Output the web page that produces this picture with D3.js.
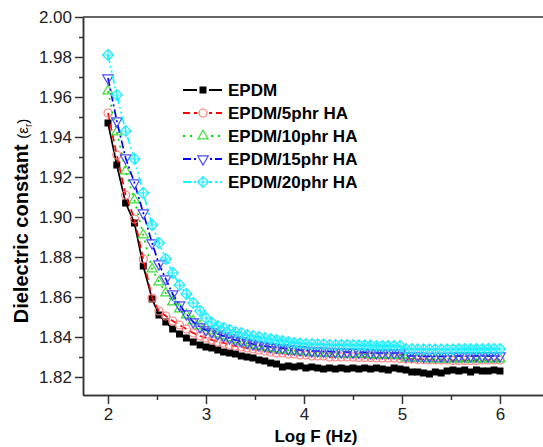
<html>
<head>
    <meta charset="UTF-8">
    <title>Dielectric constant</title>
    <style>
        body { margin: 0; background: #fff; }
        svg { font-family: "Liberation Sans", Arial, sans-serif; }
        .axis path, .axis line { stroke: #333; stroke-width: 1.5; }
        .axis text { font-size: 17px; fill: #222; }
    </style>
    <script src="https://d3js.org/d3.v7.min.js"></script>
</head>
<body>
<script type="text/javascript">
    // log frequency (Hz)
    var logF = [2.00, 2.09, 2.18, 2.27, 2.36, 2.45, 2.52, 2.59, 2.66, 2.73, 2.80, 2.87, 2.94, 3.00,
        3.06, 3.12, 3.18, 3.24, 3.30, 3.36, 3.42, 3.48, 3.54, 3.60, 3.66, 3.72, 3.78, 3.84, 3.90, 3.96,
        4.02, 4.08, 4.14, 4.20, 4.26, 4.32, 4.38, 4.44, 4.50, 4.56, 4.62, 4.68, 4.74, 4.80, 4.86, 4.92, 4.98,
        5.04, 5.10, 5.16, 5.22, 5.28, 5.34, 5.40, 5.46, 5.52, 5.58, 5.64, 5.70, 5.76, 5.82, 5.88, 5.94, 6.00]

    var epdm = [1.947, 1.926, 1.907, 1.897, 1.8755, 1.859, 1.851, 1.8475, 1.844, 1.8415, 1.8395, 1.8375, 1.836, 1.835,
        1.8345, 1.8335, 1.8325, 1.832, 1.8315, 1.8305, 1.830, 1.8295, 1.8285, 1.828, 1.827, 1.8265, 1.825, 1.8255, 1.825, 1.8255,
        1.8245, 1.825, 1.8245, 1.824, 1.8245, 1.824, 1.8245, 1.824, 1.8245, 1.824, 1.8245, 1.824, 1.8245, 1.824, 1.8235, 1.8245, 1.824,
        1.8235, 1.8225, 1.8225, 1.822, 1.8215, 1.8225, 1.822, 1.823, 1.8235, 1.823, 1.8235, 1.8225, 1.8235, 1.823, 1.823, 1.8235, 1.823]

    var ha5 = [1.952, 1.931, 1.911, 1.899, 1.879, 1.8595, 1.853, 1.8505, 1.848, 1.846, 1.844, 1.842, 1.8405, 1.8395,
        1.8385, 1.8375, 1.837, 1.836, 1.8355, 1.835, 1.8345, 1.834, 1.8335, 1.833, 1.8325, 1.832, 1.832, 1.8315, 1.8315, 1.831,
        1.831, 1.8305, 1.8305, 1.8305, 1.830, 1.830, 1.830, 1.830, 1.830, 1.8298, 1.8298, 1.8298, 1.8295, 1.8295, 1.8295, 1.8295, 1.8292,
        1.829, 1.829, 1.8288, 1.8288, 1.8285, 1.8285, 1.8285, 1.8285, 1.8283, 1.8283, 1.8283, 1.8283, 1.8283, 1.8285, 1.8285, 1.8285, 1.8285]

    var ha10 = [1.963, 1.9425, 1.923, 1.9085, 1.891, 1.874, 1.8675, 1.862, 1.8575, 1.854, 1.851, 1.848, 1.8455, 1.8445,
        1.843, 1.8415, 1.8405, 1.8395, 1.8385, 1.8375, 1.837, 1.836, 1.8355, 1.835, 1.8345, 1.834, 1.8335, 1.8333, 1.833, 1.8328,
        1.8325, 1.8323, 1.832, 1.832, 1.8318, 1.8318, 1.8315, 1.8315, 1.8315, 1.8313, 1.8313, 1.831, 1.831, 1.831, 1.831, 1.831, 1.8308,
        1.8295, 1.8295, 1.8293, 1.8293, 1.829, 1.829, 1.829, 1.829, 1.829, 1.829, 1.829, 1.829, 1.829, 1.829, 1.829, 1.829, 1.829]

    var ha15 = [1.9695, 1.948, 1.9295, 1.917, 1.902, 1.887, 1.8765, 1.869, 1.8615, 1.856, 1.8515, 1.8475, 1.845, 1.8435,
        1.8425, 1.8415, 1.8405, 1.8395, 1.8385, 1.838, 1.8372, 1.8365, 1.836, 1.8355, 1.835, 1.8348, 1.8345, 1.834, 1.8338, 1.8335,
        1.8333, 1.833, 1.833, 1.8328, 1.8328, 1.8325, 1.8325, 1.8325, 1.8323, 1.8323, 1.8323, 1.832, 1.832, 1.832, 1.832, 1.832, 1.832,
        1.8305, 1.8305, 1.8305, 1.8303, 1.8303, 1.8303, 1.8303, 1.8303, 1.8303, 1.8305, 1.8305, 1.8305, 1.8305, 1.8305, 1.8305, 1.8305, 1.8305]

    var ha20 = [1.981, 1.961, 1.943, 1.929, 1.912, 1.896, 1.887, 1.879, 1.872, 1.866, 1.8615, 1.857, 1.853, 1.8495,
        1.847, 1.8455, 1.8445, 1.8435, 1.8425, 1.842, 1.841, 1.8405, 1.840, 1.8395, 1.839, 1.8385, 1.838, 1.8375, 1.837, 1.8368,
        1.8365, 1.8365, 1.8363, 1.8363, 1.836, 1.836, 1.836, 1.836, 1.836, 1.8358, 1.8358, 1.8358, 1.8355, 1.8355, 1.8355, 1.8355, 1.8355,
        1.834, 1.834, 1.8338, 1.8338, 1.8338, 1.8338, 1.8338, 1.8338, 1.8338, 1.834, 1.834, 1.834, 1.834, 1.834, 1.834, 1.834, 1.834]

    var seriesNames = ["EPDM", "EPDM/5phr HA", "EPDM/10phr HA", "EPDM/15phr HA", "EPDM/20phr HA"]
    var xTicks = [2, 3, 4, 5, 6]
    var xMinor = [2.5, 3.5, 4.5, 5.5]
    var yTicks = [1.82, 1.84, 1.86, 1.88, 1.90, 1.92, 1.94, 1.96, 1.98, 2.00]
    var yMinor = [1.83, 1.85, 1.87, 1.89, 1.91, 1.93, 1.95, 1.97, 1.99]

    var styles = [
        { line: "#000", mark: "#000", dash: null, shape: "square", fill: "#000" },
        { line: "#ff0000", mark: "#ff7a7a", dash: "7,4", shape: "circle", fill: "none" },
        { line: "#00dd00", mark: "#3ddc3d", dash: "2,5", shape: "triangle", fill: "none" },
        { line: "#0000ff", mark: "#4a4aff", dash: "8,3,2,3", shape: "down", fill: "none" },
        { line: "#00ffff", mark: "#22ecff", dash: "8,3,2,3,2,3", shape: "cross", fill: "none" }
    ]

    var W = 543, H = 447
    var padL = 83, padR = 543, padT = 17, padB = 395

    var x = d3.scaleLinear().domain([1.745, 6.439]).range([padL, padR])
    var y = d3.scaleLinear().domain([1.811, 2.00]).range([padB, padT])

    var svg = d3.select("body").append("svg")
        .attr("width", W)
        .attr("height", H)

    var all = [epdm, ha5, ha10, ha15, ha20]

    function markerPath(shape) {
        if (shape === "square") return d3.symbol().type(d3.symbolSquare).size(49)()
        if (shape === "circle") return d3.symbol().type(d3.symbolCircle).size(50)()
        if (shape === "triangle") return d3.symbol().type(d3.symbolTriangle).size(44)()
        if (shape === "down") return d3.symbol().type(d3.symbolTriangle).size(48)()
        // diamond with cross
        return "M0,-5.5L5.5,0L0,5.5L-5.5,0Z M0,-5.5V5.5 M-5.5,0H5.5"
    }

    function drawMarker(g, shape, st) {
        var p = g.append("path")
            .attr("d", markerPath(shape))
            .attr("fill", st.fill)
            .attr("stroke", st.mark)
            .attr("stroke-width", shape === "square" ? 0 : 1.2)
        if (shape === "down") p.attr("transform", "rotate(180)")
        return p
    }

    var plot = svg.append("g")
    all.forEach(function (vals, i) {
        var st = styles[i]
        var pts = vals.map(function (v, j) { return [logF[j], v] })
        plot.append("path")
            .datum(pts)
            .attr("fill", "none")
            .attr("stroke", st.line)
            .attr("stroke-width", 1.7)
            .attr("stroke-dasharray", st.dash)
            .attr("d", d3.line().x(function (d) { return x(d[0]) }).y(function (d) { return y(d[1]) }))
        pts.forEach(function (d) {
            var g = plot.append("g").attr("transform", "translate(" + x(d[0]) + "," + y(d[1]) + ")")
            drawMarker(g, st.shape, st)
        })
    })

    // axes
    svg.append("g").attr("class", "axis")
        .attr("transform", "translate(" + padL + ",0)")
        .call(d3.axisLeft(y).tickValues(yTicks).tickSize(8).tickPadding(3).tickSizeOuter(0)
            .tickFormat(d3.format(".2f")))
    svg.append("g").attr("class", "axis")
        .attr("transform", "translate(" + padL + ",0)")
        .call(d3.axisLeft(y).tickValues(yMinor).tickSize(4).tickSizeOuter(0).tickFormat(""))
    svg.append("g").attr("class", "axis")
        .attr("transform", "translate(0," + padB + ")")
        .call(d3.axisBottom(x).tickValues(xTicks).tickSize(9).tickPadding(4).tickSizeOuter(0)
            .tickFormat(d3.format("d")))
    svg.append("g").attr("class", "axis")
        .attr("transform", "translate(0," + padB + ")")
        .call(d3.axisBottom(x).tickValues(xMinor).tickSize(5).tickSizeOuter(0).tickFormat(""))
    svg.selectAll(".axis .domain").attr("stroke", "#333").attr("stroke-width", 1.5)

    svg.append("line")
        .attr("x1", padL).attr("x2", padR).attr("y1", padT).attr("y2", padT)
        .attr("stroke", "#333").attr("stroke-width", 1.5)

    // titles
    svg.append("text")
        .attr("x", 316).attr("y", 442)
        .attr("text-anchor", "middle")
        .attr("font-size", 17).attr("font-weight", "bold")
        .text("Log F (Hz)")

    var yt = svg.append("text")
        .attr("transform", "translate(28,221) rotate(-90)")
        .attr("text-anchor", "middle")
        .attr("font-size", 20).attr("font-weight", "bold")
    yt.append("tspan").text("Dielectric constant ")
    yt.append("tspan").attr("font-weight", "normal").attr("font-size", 15).text("(ε")
    yt.append("tspan").attr("font-weight", "normal").attr("font-size", 10).attr("dy", 4).text("r")
    yt.append("tspan").attr("font-weight", "normal").attr("font-size", 15).attr("dy", -4).text(")")

    // legend
    var legend = svg.append("g")
    seriesNames.forEach(function (name, i) {
        var st = styles[i]
        var ly = 90 + i * 23
        legend.append("line")
            .attr("x1", 183).attr("x2", 222).attr("y1", ly).attr("y2", ly)
            .attr("stroke", st.line).attr("stroke-width", 1.8)
            .attr("stroke-dasharray", st.dash)
        var g = legend.append("g").attr("transform", "translate(203," + ly + ")")
        g.append("rect").attr("x", -6).attr("y", -6).attr("width", 12).attr("height", 12).attr("fill", "#fff")
        drawMarker(g, st.shape, st)
        legend.append("text")
            .attr("x", 228).attr("y", ly + 6)
            .attr("font-size", 17).attr("font-weight", "bold")
            .text(name)
    })
</script>
</body>
</html>
